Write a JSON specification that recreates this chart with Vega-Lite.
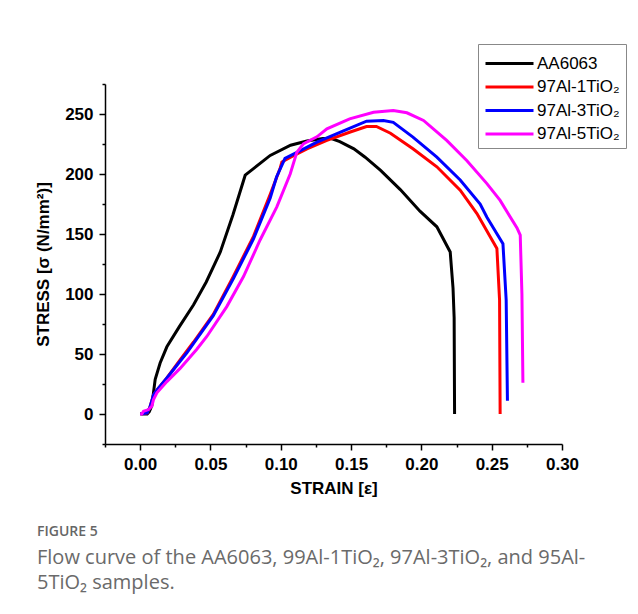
{
  "$schema": "https://vega.github.io/schema/vega-lite/v6.json",
  "width": 457,
  "height": 360,
  "autosize": {"type": "none"},
  "padding": {"left": 105, "top": 84, "right": 76, "bottom": 170},
  "background": "white",
  "config": {"view": {"stroke": null}, "font": "Liberation Sans"},
  "title": {
    "text": "FIGURE 5",
    "subtitle": ["Flow curve of the AA6063, 99Al-1TiO₂, 97Al-3TiO₂, and 95Al-", "5TiO₂ samples."],
    "orient": "bottom",
    "anchor": "start",
    "frame": "group",
    "dx": -68,
    "offset": 29,
    "font": "Open Sans",
    "fontSize": 14,
    "fontWeight": 600,
    "color": "#666666",
    "subtitleFont": "Open Sans",
    "subtitleFontSize": 20,
    "subtitleColor": "#6a6a6a",
    "subtitleLineHeight": 25,
    "subtitlePadding": 9
  },
  "data": {"values": [
    {"s":"AA6063","i":0,"x":0.001,"y":0},
    {"s":"AA6063","i":1,"x":0.005,"y":0},
    {"s":"AA6063","i":2,"x":0.0065,"y":2},
    {"s":"AA6063","i":3,"x":0.0083,"y":7},
    {"s":"AA6063","i":4,"x":0.0095,"y":18},
    {"s":"AA6063","i":5,"x":0.0107,"y":29},
    {"s":"AA6063","i":6,"x":0.0142,"y":42.5},
    {"s":"AA6063","i":7,"x":0.019,"y":56},
    {"s":"AA6063","i":8,"x":0.028,"y":73},
    {"s":"AA6063","i":9,"x":0.038,"y":91},
    {"s":"AA6063","i":10,"x":0.047,"y":110},
    {"s":"AA6063","i":11,"x":0.057,"y":135},
    {"s":"AA6063","i":12,"x":0.066,"y":166},
    {"s":"AA6063","i":13,"x":0.0747,"y":199},
    {"s":"AA6063","i":14,"x":0.0806,"y":204.5},
    {"s":"AA6063","i":15,"x":0.0925,"y":215.5},
    {"s":"AA6063","i":16,"x":0.107,"y":224},
    {"s":"AA6063","i":17,"x":0.1186,"y":227.5},
    {"s":"AA6063","i":18,"x":0.13,"y":229.5},
    {"s":"AA6063","i":19,"x":0.136,"y":229.5},
    {"s":"AA6063","i":20,"x":0.142,"y":227},
    {"s":"AA6063","i":21,"x":0.152,"y":221},
    {"s":"AA6063","i":22,"x":0.16,"y":214},
    {"s":"AA6063","i":23,"x":0.171,"y":203},
    {"s":"AA6063","i":24,"x":0.185,"y":187},
    {"s":"AA6063","i":25,"x":0.199,"y":169},
    {"s":"AA6063","i":26,"x":0.211,"y":156},
    {"s":"AA6063","i":27,"x":0.2205,"y":135},
    {"s":"AA6063","i":28,"x":0.2225,"y":105},
    {"s":"AA6063","i":29,"x":0.2233,"y":80},
    {"s":"AA6063","i":30,"x":0.2236,"y":0},
    {"s":"97Al-1TiO₂","i":0,"x":0,"y":0},
    {"s":"97Al-1TiO₂","i":1,"x":0.005,"y":1},
    {"s":"97Al-1TiO₂","i":2,"x":0.007,"y":6},
    {"s":"97Al-1TiO₂","i":3,"x":0.0095,"y":16},
    {"s":"97Al-1TiO₂","i":4,"x":0.012,"y":20},
    {"s":"97Al-1TiO₂","i":5,"x":0.019,"y":30},
    {"s":"97Al-1TiO₂","i":6,"x":0.0284,"y":45},
    {"s":"97Al-1TiO₂","i":7,"x":0.038,"y":60},
    {"s":"97Al-1TiO₂","i":8,"x":0.052,"y":83},
    {"s":"97Al-1TiO₂","i":9,"x":0.066,"y":114},
    {"s":"97Al-1TiO₂","i":10,"x":0.0806,"y":148},
    {"s":"97Al-1TiO₂","i":11,"x":0.0925,"y":183},
    {"s":"97Al-1TiO₂","i":12,"x":0.0996,"y":205},
    {"s":"97Al-1TiO₂","i":13,"x":0.1008,"y":210},
    {"s":"97Al-1TiO₂","i":14,"x":0.107,"y":214},
    {"s":"97Al-1TiO₂","i":15,"x":0.1186,"y":221},
    {"s":"97Al-1TiO₂","i":16,"x":0.1328,"y":228},
    {"s":"97Al-1TiO₂","i":17,"x":0.1494,"y":235},
    {"s":"97Al-1TiO₂","i":18,"x":0.161,"y":239.6},
    {"s":"97Al-1TiO₂","i":19,"x":0.168,"y":239.6},
    {"s":"97Al-1TiO₂","i":20,"x":0.178,"y":234},
    {"s":"97Al-1TiO₂","i":21,"x":0.194,"y":221},
    {"s":"97Al-1TiO₂","i":22,"x":0.211,"y":206},
    {"s":"97Al-1TiO₂","i":23,"x":0.2276,"y":186.5},
    {"s":"97Al-1TiO₂","i":24,"x":0.2395,"y":167},
    {"s":"97Al-1TiO₂","i":25,"x":0.2537,"y":138},
    {"s":"97Al-1TiO₂","i":26,"x":0.2556,"y":95},
    {"s":"97Al-1TiO₂","i":27,"x":0.256,"y":0},
    {"s":"97Al-3TiO₂","i":0,"x":0,"y":0},
    {"s":"97Al-3TiO₂","i":1,"x":0.005,"y":1},
    {"s":"97Al-3TiO₂","i":2,"x":0.007,"y":6},
    {"s":"97Al-3TiO₂","i":3,"x":0.0095,"y":16},
    {"s":"97Al-3TiO₂","i":4,"x":0.012,"y":20},
    {"s":"97Al-3TiO₂","i":5,"x":0.019,"y":30},
    {"s":"97Al-3TiO₂","i":6,"x":0.0284,"y":44},
    {"s":"97Al-3TiO₂","i":7,"x":0.0332,"y":51},
    {"s":"97Al-3TiO₂","i":8,"x":0.052,"y":82},
    {"s":"97Al-3TiO₂","i":9,"x":0.0664,"y":113},
    {"s":"97Al-3TiO₂","i":10,"x":0.0806,"y":146},
    {"s":"97Al-3TiO₂","i":11,"x":0.0925,"y":180},
    {"s":"97Al-3TiO₂","i":12,"x":0.097,"y":197.5},
    {"s":"97Al-3TiO₂","i":13,"x":0.103,"y":213},
    {"s":"97Al-3TiO₂","i":14,"x":0.1115,"y":218},
    {"s":"97Al-3TiO₂","i":15,"x":0.1257,"y":226.6},
    {"s":"97Al-3TiO₂","i":16,"x":0.1446,"y":236},
    {"s":"97Al-3TiO₂","i":17,"x":0.161,"y":244},
    {"s":"97Al-3TiO₂","i":18,"x":0.173,"y":244.6},
    {"s":"97Al-3TiO₂","i":19,"x":0.18,"y":243},
    {"s":"97Al-3TiO₂","i":20,"x":0.194,"y":230.7},
    {"s":"97Al-3TiO₂","i":21,"x":0.211,"y":214},
    {"s":"97Al-3TiO₂","i":22,"x":0.2276,"y":195},
    {"s":"97Al-3TiO₂","i":23,"x":0.2418,"y":175},
    {"s":"97Al-3TiO₂","i":24,"x":0.2466,"y":164},
    {"s":"97Al-3TiO₂","i":25,"x":0.258,"y":142},
    {"s":"97Al-3TiO₂","i":26,"x":0.2603,"y":95},
    {"s":"97Al-3TiO₂","i":27,"x":0.2612,"y":11},
    {"s":"97Al-5TiO₂","i":0,"x":0,"y":0},
    {"s":"97Al-5TiO₂","i":1,"x":0.0012,"y":0},
    {"s":"97Al-5TiO₂","i":2,"x":0.0024,"y":2.3},
    {"s":"97Al-5TiO₂","i":3,"x":0.006,"y":3.7},
    {"s":"97Al-5TiO₂","i":4,"x":0.0083,"y":6.5},
    {"s":"97Al-5TiO₂","i":5,"x":0.0095,"y":12},
    {"s":"97Al-5TiO₂","i":6,"x":0.0119,"y":17.6},
    {"s":"97Al-5TiO₂","i":7,"x":0.019,"y":27},
    {"s":"97Al-5TiO₂","i":8,"x":0.0284,"y":38},
    {"s":"97Al-5TiO₂","i":9,"x":0.0403,"y":54},
    {"s":"97Al-5TiO₂","i":10,"x":0.0474,"y":64.6},
    {"s":"97Al-5TiO₂","i":11,"x":0.0616,"y":89.5},
    {"s":"97Al-5TiO₂","i":12,"x":0.0735,"y":114.5},
    {"s":"97Al-5TiO₂","i":13,"x":0.0853,"y":145},
    {"s":"97Al-5TiO₂","i":14,"x":0.0972,"y":172.6},
    {"s":"97Al-5TiO₂","i":15,"x":0.1067,"y":200},
    {"s":"97Al-5TiO₂","i":16,"x":0.1114,"y":218},
    {"s":"97Al-5TiO₂","i":17,"x":0.116,"y":225},
    {"s":"97Al-5TiO₂","i":18,"x":0.1257,"y":231},
    {"s":"97Al-5TiO₂","i":19,"x":0.1328,"y":237.7},
    {"s":"97Al-5TiO₂","i":20,"x":0.149,"y":246},
    {"s":"97Al-5TiO₂","i":21,"x":0.166,"y":251.5},
    {"s":"97Al-5TiO₂","i":22,"x":0.18,"y":253},
    {"s":"97Al-5TiO₂","i":23,"x":0.1897,"y":251},
    {"s":"97Al-5TiO₂","i":24,"x":0.2015,"y":244.6},
    {"s":"97Al-5TiO₂","i":25,"x":0.218,"y":228},
    {"s":"97Al-5TiO₂","i":26,"x":0.2324,"y":211},
    {"s":"97Al-5TiO₂","i":27,"x":0.2466,"y":192},
    {"s":"97Al-5TiO₂","i":28,"x":0.256,"y":178},
    {"s":"97Al-5TiO₂","i":29,"x":0.268,"y":155},
    {"s":"97Al-5TiO₂","i":30,"x":0.2703,"y":149},
    {"s":"97Al-5TiO₂","i":31,"x":0.2715,"y":100},
    {"s":"97Al-5TiO₂","i":32,"x":0.2722,"y":26}
  ]},
  "mark": {"type": "line", "strokeWidth": 3, "clip": false},
  "encoding": {
    "x": {
      "field": "x", "type": "quantitative",
      "scale": {"domain": [-0.025, 0.3], "nice": false, "zero": false},
      "axis": {
        "title": "STRAIN [ε]",
        "values": [-0.025, 0, 0.025, 0.05, 0.075, 0.1, 0.125, 0.15, 0.175, 0.2, 0.225, 0.25, 0.275, 0.3],
        "labelExpr": "round(datum.value*1000) % 50 === 0 && datum.value > -0.01 ? format(datum.value, '.2f') : ''",
        "tickSize": {"condition": {"test": "round(datum.value*1000) % 50 === 0", "value": 6}, "value": 3},
        "labelFont": "Liberation Sans", "labelFontWeight": "bold", "labelFontSize": 17, "labelColor": "black",
        "labelPadding": 6, "labelFlush": false, "labelOverlap": false,
        "titleFont": "Liberation Sans", "titleFontSize": 17, "titleFontWeight": "bold", "titleColor": "black", "titlePadding": 8,
        "domainColor": "black", "domainWidth": 1.5, "tickColor": "black", "tickWidth": 1.5, "grid": false
      }
    },
    "y": {
      "field": "y", "type": "quantitative",
      "scale": {"domain": [-25, 275], "nice": false, "zero": false},
      "axis": {
        "title": "STRESS [σ (N/mm²)]",
        "values": [-25, 0, 25, 50, 75, 100, 125, 150, 175, 200, 225, 250, 275],
        "labelExpr": "datum.value % 50 === 0 && datum.value >= 0 ? datum.value : ''",
        "tickSize": {"condition": {"test": "datum.value % 50 === 0", "value": 6}, "value": 3},
        "labelFont": "Liberation Sans", "labelFontWeight": "bold", "labelFontSize": 17, "labelColor": "black",
        "labelPadding": 6, "labelFlush": false, "labelOverlap": false,
        "titleFont": "Liberation Sans", "titleFontSize": 17, "titleFontWeight": "bold", "titleColor": "black", "titlePadding": 12,
        "domainColor": "black", "domainWidth": 1.5, "tickColor": "black", "tickWidth": 1.5, "grid": false
      }
    },
    "color": {
      "field": "s", "type": "nominal",
      "scale": {"domain": ["AA6063", "97Al-1TiO₂", "97Al-3TiO₂", "97Al-5TiO₂"], "range": ["#000000", "#ff0000", "#0000ff", "#ff00ff"]},
      "legend": {
        "orient": "none", "legendX": 373, "legendY": -40, "title": null,
        "symbolType": "M-1,0H3", "symbolSize": 576, "symbolStrokeWidth": 3,
        "labelFont": "Liberation Sans", "labelFontSize": 17, "labelColor": "black", "labelLimit": 200,
        "strokeColor": "#888888", "fillColor": "white", "padding": 6, "rowPadding": 1.5, "labelOffset": 26
      }
    },
    "order": {"field": "i", "type": "quantitative"}
  }
}
